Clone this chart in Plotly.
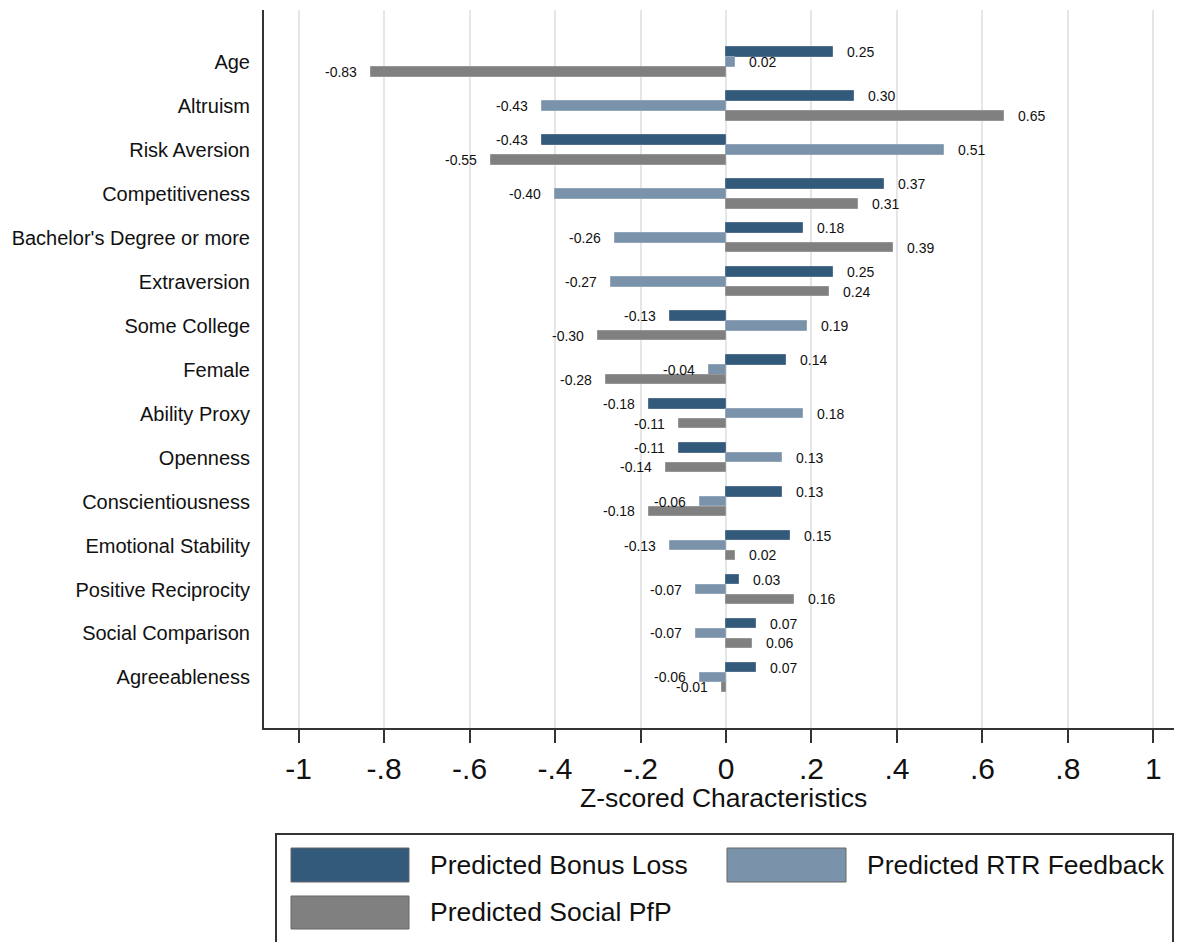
import plotly.graph_objects as go

categories = ["Age", "Altruism", "Risk Aversion", "Competitiveness", "Bachelor's Degree or more",
              "Extraversion", "Some College", "Female", "Ability Proxy", "Openness",
              "Conscientiousness", "Emotional Stability", "Positive Reciprocity",
              "Social Comparison", "Agreeableness"]
bonus_loss = [0.25, 0.30, -0.43, 0.37, 0.18, 0.25, -0.13, 0.14, -0.18, -0.11, 0.13, 0.15, 0.03, 0.07, 0.07]
rtr_feedback = [0.02, -0.43, 0.51, -0.40, -0.26, -0.27, 0.19, -0.04, 0.18, 0.13, -0.06, -0.13, -0.07, -0.07, -0.06]
social_pfp = [-0.83, 0.65, -0.55, 0.31, 0.39, 0.24, -0.30, -0.28, -0.11, -0.14, -0.18, 0.02, 0.16, 0.06, -0.01]
series_names = ["Predicted Bonus Loss", "Predicted RTR Feedback", "Predicted Social PfP"]
tick_vals = [-1, -0.8, -0.6, -0.4, -0.2, 0, 0.2, 0.4, 0.6, 0.8, 1]
tick_text = ["-1", "-.8", "-.6", "-.4", "-.2", "0", ".2", ".4", ".6", ".8", "1"]
axis_title = "Z-scored Characteristics"

colors = ["#33597b", "#7a92aa", "#808080"]
edge_colors = ["#52708c", "#93a6b9", "#969696"]
offsets = [-0.225, 0.0, 0.225]
bar_w = 0.22
FONT = "Arial, Liberation Sans, Helvetica, sans-serif"

OFF = 8  # page body margin of the browser
W, H = 1182 - OFF, 942 - OFF
# plot area in target-page pixels
PL, PR, PT, PB = 264, 1182, 10, 728
L, T = PL - OFF, PT - OFF
R, B = W - (PR - OFF), H - (PB - OFF)
pw, ph = W - L - R, H - T - B


def px(xp):
    return (xp - PL) / pw


def py(yp):
    return (PB - yp) / ph


fig = go.Figure()
annotations = []
for s, vals in enumerate([bonus_loss, rtr_feedback, social_pfp]):
    ys = [i + offsets[s] for i in range(len(categories))]
    fig.add_trace(go.Bar(
        x=vals, y=ys, orientation="h", width=bar_w, name=series_names[s],
        marker=dict(color=colors[s], line=dict(color=edge_colors[s], width=1)),
        showlegend=False, hoverinfo="x+name"))
    for v, y in zip(vals, ys):
        annotations.append(dict(
            x=v, y=y, xref="x", yref="y", text=f"{v:.2f}", showarrow=False,
            xanchor="left" if v >= 0 else "right", yanchor="middle",
            xshift=12 if v >= 0 else -12,
            font=dict(family=FONT, size=14, color="#111")))

# axis title
annotations.append(dict(x=0.5, y=0, xref="paper", yref="paper", text=axis_title,
                        showarrow=False, xanchor="center", yanchor="top", yshift=-53,
                        font=dict(family=FONT, size=26.5, color="#111")))

# manual legend
shapes = [dict(type="rect", xref="paper", yref="paper", x0=px(276), x1=px(1173),
               y0=py(834), y1=py(960), line=dict(color="#333", width=2), fillcolor="white",
               layer="above")]
leg_items = [(0, 291, 409, 848, 882, 428), (1, 727, 846, 848, 882, 865), (2, 291, 409, 896, 929, 428)]
for s, x0, x1, y0, y1, tx in leg_items:
    shapes.append(dict(type="rect", xref="paper", yref="paper", x0=px(x0), x1=px(x1),
                       y0=py(y1), y1=py(y0), line=dict(color="#666", width=1),
                       fillcolor=colors[s], layer="above"))
    annotations.append(dict(x=px(tx), y=py((y0 + y1) / 2), xref="paper", yref="paper",
                            text=series_names[s], showarrow=False, xanchor="left",
                            yanchor="middle", font=dict(family=FONT, size=26.5, color="#111")))

fig.update_layout(
    width=W, height=H, margin=dict(l=L, r=R, t=T, b=B, pad=0),
    paper_bgcolor="white", plot_bgcolor="white",
    barmode="overlay", bargap=0,
    annotations=annotations, shapes=shapes,
    font=dict(family=FONT, color="#111"),
    xaxis=dict(range=[-1.081, 1.067], tickvals=tick_vals, ticktext=tick_text,
               showgrid=True, gridcolor="#e6e6e6", gridwidth=2, zeroline=False,
               showline=True, linecolor="#333", linewidth=2,
               ticks="outside", ticklen=13, tickwidth=2, tickcolor="#333",
               tickfont=dict(family=FONT, size=30, color="#111"), ticklabelstandoff=0),
    yaxis=dict(range=[15.15, -1.18], tickvals=list(range(len(categories))), ticktext=categories,
               showgrid=False, zeroline=False, showline=True, linecolor="#333", linewidth=2,
               ticks="", tickfont=dict(family=FONT, size=20, color="#111"), ticklabelstandoff=8),
)

fig.write_html("out.html")
